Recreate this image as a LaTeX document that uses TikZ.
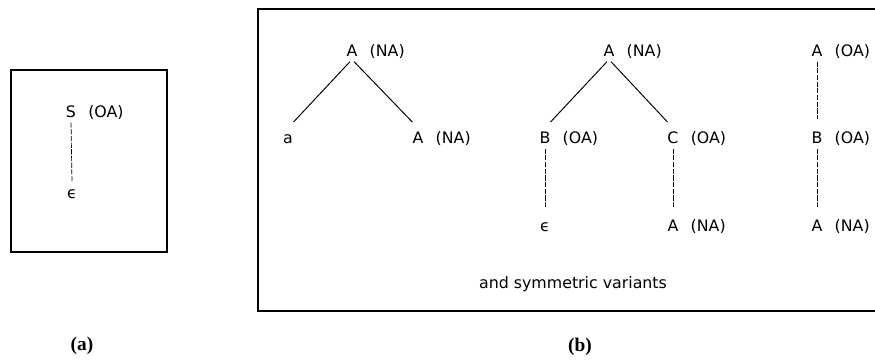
\documentclass[tikz,border=0pt]{standalone}
\usepackage{fontspec}
\usepackage{tikz}
\usetikzlibrary{calc}
\setmainfont{DejaVu Sans}
\newfontfamily\tagfont{Liberation Serif}

\begin{document}
\begin{tikzpicture}[
  x=0.02cm, y=-0.02cm,
  every node/.style={font=\fontsize{9}{11}\selectfont},
  sym/.style={inner sep=1.8pt, text height=6.6pt, text depth=0pt, anchor=base},
  ann/.style={inner sep=1.8pt, text height=6.6pt, text depth=0pt, label distance=3pt},
  lab/.style={label={[ann]right:(#1)}},
  edge/.style={line width=0.55pt, shorten <=0.06cm, shorten >=0.16cm},
  vedge/.style={line width=0.4pt, dash pattern=on 3pt off 0.8pt, shorten <=0.04cm, shorten >=0.18cm},
  frame/.style={line width=0.9pt},
  tag/.style={font=\tagfont\fontsize{11}{13}\selectfont\bfseries},
]
\useasboundingbox (0,0) rectangle (875,360);

% === (a) ===
\draw[frame] (11,70) rectangle (167,252);
\node[sym, lab=OA] (a-s) at (71,117) {S};
\node[sym] (a-eps) at (72,198) {ϵ};
\draw[vedge, shorten >=0.04cm] (a-s.south) -- (a-eps.north);
\node[tag] (a-tag) at (82,346) {(a)};

% === (b) ===
\draw[frame] (875,9) -- (258,9) -- (258,311) -- (875,311);

% tree 1
\node[sym, lab=NA] (b1-top) at (352,56) {A};
\node[sym] (b1-a) at (288,143) {a};
\node[sym, lab=NA] (b1-an) at (418,143) {A};
\draw[edge] (b1-top.south) -- (b1-a.north);
\draw[edge] (b1-top.south) -- (b1-an.north);

% tree 2
\node[sym, lab=NA] (b2-top) at (609,56) {A};
\node[sym, lab=OA] (b2-b) at (545,143) {B};
\node[sym, lab=OA] (b2-c) at (673,143) {C};
\node[sym] (b2-eps) at (545,231) {ϵ};
\node[sym, lab=NA] (b2-a) at (673,231) {A};
\draw[edge] (b2-top.south) -- (b2-b.north);
\draw[edge] (b2-top.south) -- (b2-c.north);
\draw[vedge] (b2-b.south) -- (b2-eps.north);
\draw[vedge] (b2-c.south) -- (b2-a.north);

% tree 3
\node[sym, lab=OA] (b3-top) at (817,56) {A};
\node[sym, lab=OA] (b3-b) at (817,143) {B};
\node[sym, lab=NA] (b3-a) at (817,231) {A};
\draw[vedge] (b3-top.south) -- (b3-b.north);
\draw[vedge] (b3-b.south) -- (b3-a.north);

\node (b-note) at (573,284) {and symmetric variants};
\node[tag] (b-tag) at (580,347) {(b)};
\end{tikzpicture}
\end{document}
